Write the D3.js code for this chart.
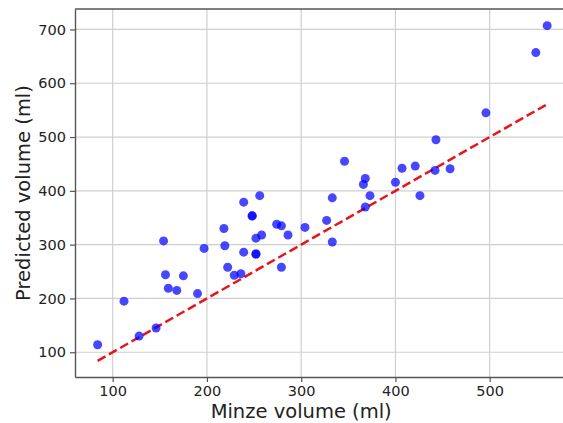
<!DOCTYPE html>
<html>
<head>
<meta charset="utf-8">
<script src="https://cdn.jsdelivr.net/npm/d3@7"></script>
<style>
  body { margin: 0; background: #fff; }
  svg { display: block; font-family: "DejaVu Sans", sans-serif; }
</style>
</head>
<body>
<svg width="563" height="423"></svg>
<script>
var minze = [84, 112, 128, 146, 154, 156, 159, 168, 175, 190, 197, 218, 219, 222, 229, 236,
    239, 239, 248, 248, 252, 252, 252, 256, 258, 274, 279, 279, 286, 304, 327, 333, 333, 346,
    366, 368, 368, 373, 400, 407, 421, 426, 442, 443, 458, 496, 549, 561];
var predicted = [114, 195, 130, 145, 307, 244, 219, 215, 242, 209, 293, 330, 298, 258, 243, 246,
    286, 379, 353, 354, 282, 283, 312, 391, 318, 338, 335, 258, 318, 332, 345, 305, 387, 455,
    412, 423, 370, 391, 416, 442, 446, 391, 438, 495, 441, 545, 657, 707];
var xTicks = [100, 200, 300, 400, 500];
var yTicks = [100, 200, 300, 400, 500, 600, 700];

var svg = d3.select("svg");
var margin = {left: 75, top: 9, bottom: 377};

var x = d3.scaleLinear().domain([60, 590]).range([margin.left, 574.5]);
var y = d3.scaleLinear().domain([54, 738]).range([margin.bottom, margin.top]);

// grid
svg.append("g").selectAll("line")
    .data(xTicks)
    .enter().append("line")
    .attr("x1", d => x(d)).attr("x2", d => x(d))
    .attr("y1", margin.top).attr("y2", margin.bottom)
    .attr("stroke", "#cfcfcf").attr("stroke-width", 1.2);
svg.append("g").selectAll("line")
    .data(yTicks)
    .enter().append("line")
    .attr("x1", margin.left).attr("x2", 575)
    .attr("y1", d => y(d)).attr("y2", d => y(d))
    .attr("stroke", "#cfcfcf").attr("stroke-width", 1.2);

// axes
var xAxis = svg.append("g")
    .attr("transform", "translate(0," + margin.bottom + ")")
    .call(d3.axisBottom(x).tickValues(xTicks).tickSize(5).tickSizeOuter(0).tickPadding(4));
var yAxis = svg.append("g")
    .attr("transform", "translate(" + margin.left + ",0)")
    .call(d3.axisLeft(y).tickValues(yTicks).tickSize(5).tickSizeOuter(0).tickPadding(4));

[xAxis, yAxis].forEach(function (a) {
    a.select(".domain").attr("stroke", "#555").attr("stroke-width", 1.4);
    a.selectAll(".tick line").attr("stroke", "#555").attr("stroke-width", 1.2);
    a.selectAll(".tick text")
        .style("font-family", "DejaVu Sans, sans-serif")
        .style("font-size", "14.5px")
        .attr("fill", "#222");
});

// top spine
svg.append("line")
    .attr("x1", margin.left).attr("x2", 575)
    .attr("y1", margin.top).attr("y2", margin.top)
    .attr("stroke", "#555").attr("stroke-width", 1.4);

// identity line y = x
var lo = d3.min(minze), hi = d3.max(minze);
svg.append("line")
    .attr("x1", x(lo)).attr("y1", y(lo))
    .attr("x2", x(hi)).attr("y2", y(hi))
    .attr("stroke", "#e8141c")
    .attr("stroke-width", 2.5)
    .attr("stroke-dasharray", "9,4");

// points
svg.append("g").selectAll("circle")
    .data(minze)
    .enter().append("circle")
    .attr("cx", d => x(d))
    .attr("cy", (d, i) => y(predicted[i]))
    .attr("r", 4.5)
    .attr("fill", "#0000ff")
    .attr("fill-opacity", 0.72);

// labels
svg.append("text")
    .attr("x", x(300))
    .attr("y", 418)
    .attr("text-anchor", "middle")
    .style("font-size", "19.5px")
    .attr("fill", "#222")
    .text("Minze volume (ml)");

svg.append("text")
    .attr("transform", "translate(30," + (margin.top + margin.bottom) / 2 + ") rotate(-90)")
    .attr("text-anchor", "middle")
    .style("font-size", "19.5px")
    .attr("fill", "#222")
    .text("Predicted volume (ml)");
</script>
</body>
</html>
